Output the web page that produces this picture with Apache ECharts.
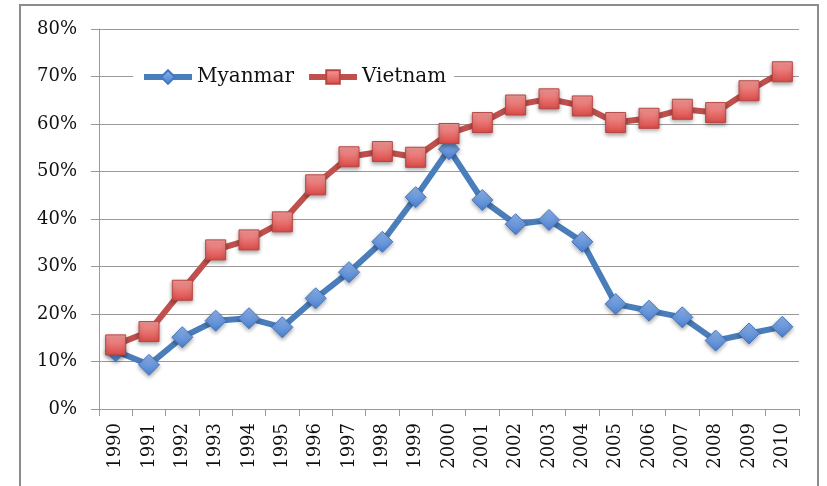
<!DOCTYPE html>
<html>
<head>
<meta charset="utf-8">
<script src="https://cdn.jsdelivr.net/npm/echarts@6/dist/echarts.min.js"></script>
<style>
  html, body { margin: 0; padding: 0; background: #fff; }
  #chart { width: 827px; height: 486px; }
</style>
</head>
<body>
<div id="chart"></div>
<script>
// categories and values (percent)
var years = ["1990", "1991", "1992", "1993", "1994", "1995", "1996", "1997", "1998", "1999", "2000",
  "2001", "2002", "2003", "2004", "2005", "2006", "2007", "2008", "2009", "2010"];
var myanmar = [12.2, 9.3, 15.1, 18.6, 19.1, 17.2, 23.3, 28.8, 35.2, 44.6, 54.7,
  44.0, 38.9, 39.8, 35.2, 22.1, 20.7, 19.3, 14.4, 15.9, 17.3];
var vietnam = [13.5, 16.3, 25.0, 33.5, 35.6, 39.4, 47.2, 53.1, 54.2, 53.0, 58.0,
  60.3, 64.0, 65.3, 63.8, 60.3, 61.2, 63.1, 62.4, 67.0, 71.0];

var font = "DejaVu Serif";
var chart = echarts.init(document.getElementById("chart"));

var option = {
  animation: false,
  textStyle: { fontFamily: font },
  graphic: [{
    type: "rect",
    shape: { x: 20, y: 5, width: 798, height: 520 },
    style: { fill: null, stroke: "#8c8c8c", lineWidth: 2 },
    silent: true
  }],
  grid: { left: 99, right: 28, top: 29, bottom: 77 },
  legend: {
    left: 133,
    top: 63,
    backgroundColor: "#fff",
    padding: [4, 8],
    itemGap: 12,
    itemWidth: 48,
    itemHeight: 17,
    textStyle: { fontFamily: font, fontSize: 20, color: "#111" },
    data: [
      { name: "Myanmar", lineStyle: { width: 6 } },
      { name: "Vietnam", lineStyle: { width: 6 } }
    ]
  },
  xAxis: {
    type: "category",
    data: years,
    boundaryGap: true,
    axisLine: { lineStyle: { color: "#999", width: 1 } },
    axisTick: { show: true, length: 7, lineStyle: { color: "#999" } },
    axisLabel: { rotate: 90, margin: 14, fontSize: 18, color: "#111", fontFamily: font, interval: 0 }
  },
  yAxis: {
    type: "value",
    min: 0,
    max: 80,
    interval: 10,
    axisLine: { show: true, lineStyle: { color: "#999" } },
    axisTick: { show: true, length: 8, lineStyle: { color: "#999" } },
    axisLabel: { formatter: "{value}%", margin: 22, fontSize: 18, color: "#111", fontFamily: font },
    splitLine: { lineStyle: { color: "#999", width: 1 } }
  },
  series: [
    {
      name: "Myanmar",
      type: "line",
      data: myanmar,
      symbol: "diamond",
      symbolSize: 21,
      lineStyle: { color: "#4a7ebb", width: 6 },
      itemStyle: {
        color: new echarts.graphic.LinearGradient(0, 0, 0, 1, [
          { offset: 0, color: "#8fb4ea" },
          { offset: 1, color: "#4a7fd0" }
        ]),
        borderColor: "#4677c0",
        borderWidth: 1,
        shadowBlur: 4,
        shadowColor: "rgba(0,0,0,0.35)",
        shadowOffsetY: 2
      },
      z: 2
    },
    {
      name: "Vietnam",
      type: "line",
      data: vietnam,
      symbol: "rect",
      symbolSize: 20,
      lineStyle: { color: "#c0504d", width: 6 },
      itemStyle: {
        color: new echarts.graphic.LinearGradient(0, 0, 0, 1, [
          { offset: 0, color: "#f49c9a" },
          { offset: 1, color: "#db4a47" }
        ]),
        borderColor: "#b84542",
        borderWidth: 1,
        shadowBlur: 4,
        shadowColor: "rgba(0,0,0,0.35)",
        shadowOffsetY: 2
      },
      z: 3
    }
  ]
};

chart.setOption(option);
</script>
</body>
</html>
